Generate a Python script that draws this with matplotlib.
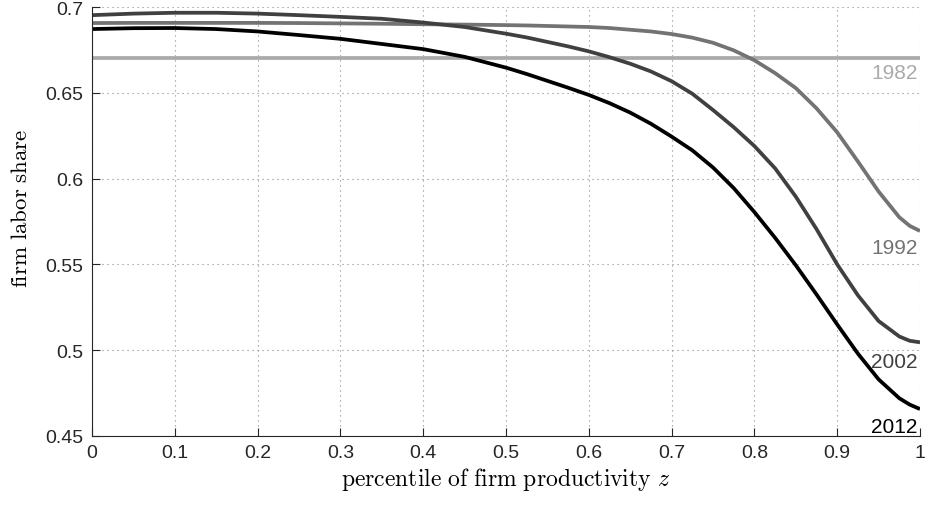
import numpy as np
import matplotlib
matplotlib.use('Agg')
import matplotlib.pyplot as plt

plt.rcParams['mathtext.fontset'] = 'cm'

# percentile grid and firm labor share per year
z = [0, 0.05, 0.1, 0.15, 0.2, 0.25, 0.3, 0.35, 0.4, 0.45, 0.5,
     0.525, 0.55, 0.575, 0.6, 0.625, 0.65, 0.675, 0.7, 0.725, 0.75, 0.775, 0.8,
     0.825, 0.85, 0.875, 0.9, 0.925, 0.95, 0.975, 0.9875, 1.0]
share_1982 = [0.6705] * len(z)
share_1992 = [0.6907, 0.6908, 0.6908, 0.6908, 0.6908, 0.6907, 0.6905, 0.6903, 0.6900, 0.6898, 0.6895,
              0.6893, 0.6890, 0.6887, 0.6884, 0.6878, 0.6868, 0.6858, 0.6843, 0.6822, 0.6792, 0.6748,
              0.6690, 0.6615, 0.6528, 0.6410, 0.6270, 0.6100, 0.5925, 0.5775, 0.5725, 0.5695]
share_2002 = [0.6953, 0.6962, 0.6967, 0.6967, 0.6962, 0.6953, 0.6943, 0.6932, 0.6910, 0.6884, 0.6845,
              0.6823, 0.6797, 0.6771, 0.6742, 0.6708, 0.6670, 0.6625, 0.6568, 0.6495, 0.6400, 0.6300,
              0.6190, 0.6060, 0.5895, 0.5706, 0.5500, 0.5320, 0.5170, 0.5080, 0.5055, 0.5046]
share_2012 = [0.6872, 0.6877, 0.6878, 0.6872, 0.6858, 0.6837, 0.6815, 0.6785, 0.6755, 0.6710, 0.6647,
              0.6610, 0.6570, 0.6530, 0.6488, 0.6440, 0.6385, 0.6320, 0.6245, 0.6165, 0.6065, 0.5945,
              0.5805, 0.5655, 0.5495, 0.5325, 0.5150, 0.4980, 0.4830, 0.4720, 0.4683, 0.4657]

years = ['1982', '1992', '2002', '2012']
series = [share_1982, share_1992, share_2002, share_2012]
colors = ['#aaaaaa', '#737373', '#404040', '#000000']
label_y = [0.6621, 0.5596, 0.4937, 0.4553]

fig = plt.figure(figsize=(9.25, 5.06), dpi=100)
ax = fig.add_axes([0.0995, 0.1364, 0.8951, 0.8476])

for ys, c in zip(series, colors):
    ax.plot(z, ys, color=c, lw=2.7, solid_capstyle='butt', solid_joinstyle='round')

for yr, c, ly in zip(years, colors, label_y):
    ax.text(0.997, ly, yr, color=c, fontsize=15, family='Liberation Sans',
            ha='right', va='center')

ax.set_xlim(0, 1)
ax.set_ylim(0.45, 0.7)
ax.set_xticks(np.arange(0, 1.01, 0.1))
ax.set_xticklabels(['0', '0.1', '0.2', '0.3', '0.4', '0.5', '0.6', '0.7', '0.8', '0.9', '1'])
ax.set_yticks([0.45, 0.5, 0.55, 0.6, 0.65, 0.7])
ax.set_yticklabels(['0.45', '0.5', '0.55', '0.6', '0.65', '0.7'])
for lab in ax.get_xticklabels() + ax.get_yticklabels():
    lab.set_family('Liberation Sans')
    lab.set_fontsize(14)
    lab.set_color('#262626')

ax.tick_params(direction='in', length=6, width=0.8, color='#262626', pad=6)
ax.grid(True, color='#888888', linestyle=(0, (1, 3.5)), lw=0.8)
ax.spines['top'].set_visible(False)
ax.spines['right'].set_visible(False)
for s in ['left', 'bottom']:
    ax.spines[s].set_color('#262626')
    ax.spines[s].set_linewidth(0.8)

ax.set_xlabel(r'$\mathrm{percentile\ of\ firm\ productivity}\ z$', fontsize=17, labelpad=3)
ax.set_ylabel(r'$\mathrm{firm\ labor\ share}$', fontsize=16.5)
ax.yaxis.set_label_coords(-0.072, 0.534)

fig.savefig('out.png', dpi=100)
